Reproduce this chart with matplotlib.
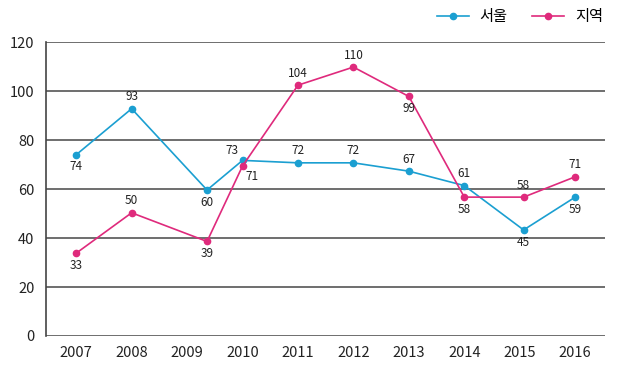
import matplotlib.pyplot as plt

plt.rcParams['font.family'] = ['Liberation Sans Narrow', 'Noto Sans CJK KR', 'DejaVu Sans']

# data
years = ['2007', '2008', '2009', '2010', '2011', '2012', '2013', '2014', '2015', '2016']
# x positions of the points (the 2009 and 2015 points sit a bit right of their ticks)
x_pos = [0, 1, 2.36, 3, 4, 5, 6, 7, 8.07, 9]
seoul = [74, 92.8, 59.6, 71.7, 70.7, 70.7, 67.3, 61.4, 43.3, 56.7]
region = [33.8, 50.3, 38.6, 69.4, 102.4, 109.8, 97.8, 56.7, 56.7, 65]
seoul_labels = ['74', '93', '60', '73', '72', '72', '67', '61', '45', '59']
region_labels = ['33', '50', '39', '71', '104', '110', '99', '58', '58', '71']
# label placement: (dx, dy) in pixels
seoul_off = [(0, -12), (0, 12), (0, -12), (-11, 10), (0, 12), (0, 12), (0, 12), (0, 12), (0, -13), (0, -12)]
region_off = [(0, -12), (0, 12), (0, -12), (9, -10), (0, 12), (0, 12), (0, -12), (0, -12), (0, 12), (0, 12)]

blue = '#1b9fd1'
pink = '#df2a7c'

fig = plt.figure(figsize=(6.39, 3.66), dpi=100)
ax = fig.add_axes([0.0715, 0.082, 0.8755, 0.803])

ax.plot(x_pos, seoul, color=blue, lw=1.2, marker='o', ms=4.5, label='서울')
ax.plot(x_pos, region, color=pink, lw=1.2, marker='o', ms=4.5, label='지역')

for xs, vals, labs, offs in [(x_pos, seoul, seoul_labels, seoul_off),
                             (x_pos, region, region_labels, region_off)]:
    for xv, v, lab, (dx, dy) in zip(xs, vals, labs, offs):
        ax.annotate(lab, (xv, v), xytext=(dx, dy), textcoords='offset pixels',
                    ha='center', va='center', fontsize=8.5, color='#222222')

ax.set_xlim(-0.55, 9.54)
ax.set_ylim(0, 120)
ax.set_yticks(range(0, 121, 20))
ax.set_xticks(range(len(years)))
ax.set_xticklabels(years)
ax.grid(axis='y', color='#555555', lw=1.2)
ax.set_axisbelow(True)
for s in ['top', 'right', 'bottom']:
    ax.spines[s].set_visible(False)
ax.spines['left'].set_color('#444444')
ax.spines['left'].set_linewidth(1.2)
ax.tick_params(length=0, labelsize=10.5, colors='#222222')
ax.tick_params(axis='y', pad=8)
ax.tick_params(axis='x', pad=7)

fig.legend(loc='upper right', bbox_to_anchor=(0.965, 1.015), ncol=2, frameon=False,
           handlelength=2.1, handletextpad=0.7, columnspacing=1.6,
           prop={'family': ['Noto Sans CJK KR', 'DejaVu Sans'], 'size': 11})

fig.savefig('out.png', dpi=100)
